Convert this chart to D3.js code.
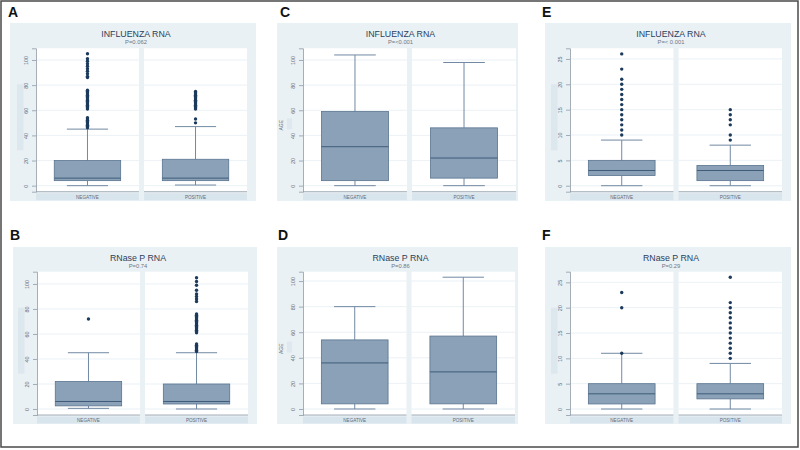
<!DOCTYPE html>
<html>
<head>
<meta charset="utf-8">
<script src="https://cdn.jsdelivr.net/npm/d3@7"></script>
<style>
  html, body { margin: 0; padding: 0; background: #ffffff; }
  svg { display: block; font-family: "Liberation Sans", Arial, sans-serif; }
</style>
</head>
<body>
<svg id="chart" width="800" height="450"></svg>
<script>
// ---------------- DATA ----------------
const categories = ["NEGATIVE", "POSITIVE"];
const panelLetters = ["A", "B", "C", "D", "E", "F"];
const panelTitles = ["INFLUENZA RNA", "RNase P RNA", "INFLUENZA RNA", "RNase P RNA", "INFLUENZA RNA", "RNase P RNA"];
const pValues = ["P=0.062", "P=0.74", "P=<0.001", "P=0.86", "P=< 0.001", "P=0.29"];
const yAxisTitles = ["", "", "AGE", "AGE", "", ""];
const ageTicks = [0, 20, 40, 60, 80, 100];
const smallTicks = [0, 5, 10, 15, 20, 25];

// box stats: [lower whisker, q1, median, q3, upper whisker]
const boxA_neg = [0, 4, 6, 20, 45];
const boxA_pos = [0.5, 4, 6, 21, 47];
const outA_neg = [46, 47, 48, 49, 50, 51, 52, 53, 54, 61, 62, 63, 64, 65, 66, 67, 68, 69, 70, 71, 72, 73, 74, 75, 76, 86, 87, 89, 91, 93, 95, 97, 99, 101, 105];
const outA_pos = [50, 53, 61, 62, 63, 64, 65, 66, 67, 68, 69, 70, 71, 72, 73, 74, 75];

const boxB_neg = [0.5, 2.5, 6, 22, 45];
const boxB_pos = [0, 4, 6, 20, 45];
const outB_neg = [72];
const outB_pos = [46, 47, 48, 49, 50, 51, 52, 61, 62, 63, 64, 65, 66, 67, 68, 69, 70, 71, 72, 73, 74, 75, 76, 86, 88, 90, 92, 95, 99, 102, 105];

const boxC_neg = [0, 4, 31, 59, 104];
const boxC_pos = [0, 6, 22, 46, 98];
const outC_neg = [];
const outC_pos = [];

const boxD_neg = [0, 4, 36, 54, 80];
const boxD_pos = [0, 4, 29, 57, 103];
const outD_neg = [];
const outD_pos = [];

const boxE_neg = [0, 2, 3, 5, 9];
const boxE_pos = [0, 1, 3, 4, 8];
const outE_neg = [10, 11, 12, 13, 14, 15, 16, 17, 18, 19, 20, 21, 23, 26];
const outE_pos = [9, 10, 12, 13, 14, 15];

const boxF_neg = [0, 1, 3, 5, 11];
const boxF_pos = [0, 2, 3, 5, 9];
const outF_neg = [11, 20, 23];
const outF_pos = [10, 11, 12, 13, 14, 15, 16, 17, 18, 19, 20, 21, 26];

const panelBoxes = [[boxA_neg, boxA_pos], [boxB_neg, boxB_pos], [boxC_neg, boxC_pos], [boxD_neg, boxD_pos], [boxE_neg, boxE_pos], [boxF_neg, boxF_pos]];
const panelOutliers = [[outA_neg, outA_pos], [outB_neg, outB_pos], [outC_neg, outC_pos], [outD_neg, outD_pos], [outE_neg, outE_pos], [outF_neg, outF_pos]];
const panelTicks = [ageTicks, ageTicks, ageTicks, ageTicks, smallTicks, smallTicks];
const panelDomains = [[-4.8, 109.3], [-4.8, 109.8], [-4.8, 109.3], [-4.7, 107.3], [-1.18, 27.1], [-1.18, 27.1]];

// ---------------- LAYOUT ----------------
const layout = [
  { lx: 8,   ly: 17,  bg: [10, 23, 246, 178],  plot: [36, 48.3, 211, 143.4] },
  { lx: 10,  ly: 240, bg: [13, 247, 244, 177], plot: [37, 271.7, 211, 143.3] },
  { lx: 280, ly: 17,  bg: [277, 23, 241, 178], plot: [303, 48.3, 213, 143.4] },
  { lx: 278, ly: 240, bg: [277, 247, 241, 177], plot: [303, 271.7, 212, 143.3] },
  { lx: 542, ly: 17,  bg: [545, 23, 246, 178], plot: [570, 48.3, 212, 143.4] },
  { lx: 542, ly: 240, bg: [545, 247, 246, 177], plot: [570, 271.7, 212, 143.3] }
];

const C = {
  bg: "#eaf1f5", strip: "#d9e5ed", grid: "#e6eef3", axis: "#8f9ba6",
  boxFill: "#8aa1b7", boxStroke: "#5a7490", median: "#3f5c7a", whisker: "#7189a3",
  dot: "#1b3a5c", title: "#2b3f5c", sub: "#6b7785", tick: "#5f6b78"
};

const svg = d3.select("#chart");

// outer frame
svg.append("rect").attr("x", 1).attr("y", 1).attr("width", 797).attr("height", 446)
  .attr("fill", "none").attr("stroke", "#4a4a4a").attr("stroke-width", 1.5);

layout.forEach((L, i) => {
  const g = svg.append("g");
  const [bx, by, bw, bh] = L.bg;
  const [px, py, pw, ph] = L.plot;

  g.append("text").attr("x", L.lx).attr("y", L.ly)
    .attr("font-size", 14).attr("font-weight", "bold").attr("fill", "#111")
    .text(panelLetters[i]);

  g.append("rect").attr("x", bx).attr("y", by).attr("width", bw).attr("height", bh).attr("fill", C.bg);

  const cx = bx + bw / 2 + 3;
  g.append("text").attr("x", cx).attr("y", by + 14).attr("text-anchor", "middle")
    .attr("font-size", 8.8).attr("fill", C.title).text(panelTitles[i]);
  g.append("text").attr("x", cx).attr("y", by + 21).attr("text-anchor", "middle")
    .attr("font-size", 5.8).attr("fill", C.sub).text(pValues[i]);

  const gap = 5;
  const sw = (pw - gap) / 2;
  const x = d3.scaleBand().domain(categories).range([px, px + pw]).paddingInner(gap / pw * 2).paddingOuter(0);
  const y = d3.scaleLinear().domain(panelDomains[i]).range([py + ph, py]);

  // subplot backgrounds, strips, grid, x-axis lines
  categories.forEach((cat) => {
    const sx = x(cat), bwid = x.bandwidth();
    g.append("rect").attr("x", sx).attr("y", py).attr("width", bwid).attr("height", ph).attr("fill", "#ffffff");
    g.selectAll(null).data(panelTicks[i]).enter().append("line")
      .attr("x1", sx).attr("x2", sx + bwid).attr("y1", d => y(d)).attr("y2", d => y(d))
      .attr("stroke", C.grid).attr("stroke-width", 0.8);
    g.append("line").attr("x1", sx).attr("x2", sx + bwid).attr("y1", py + ph).attr("y2", py + ph)
      .attr("stroke", C.axis).attr("stroke-width", 0.8);
    g.append("rect").attr("x", sx).attr("y", py + ph + 1.5).attr("width", bwid).attr("height", 7).attr("fill", C.strip);
    g.append("text").attr("x", sx + bwid / 2).attr("y", py + ph + 6.8).attr("text-anchor", "middle")
      .attr("font-size", 4.6).attr("fill", C.tick).text(cat);
  });

  // y axis
  const yAxis = d3.axisLeft(y).tickValues(panelTicks[i]).tickSize(4).tickPadding(2).tickFormat(d3.format("d"));
  const ag = g.append("g").attr("transform", `translate(${px},0)`).call(yAxis);
  ag.select(".domain").attr("stroke", C.axis).attr("stroke-width", 0.8);
  ag.selectAll(".tick line").attr("stroke", C.axis).attr("stroke-width", 0.8);
  ag.selectAll(".tick text").attr("font-size", 5.5).attr("fill", C.tick)
    .attr("font-family", "Liberation Sans, Arial, sans-serif")
    .attr("text-anchor", "middle").attr("dy", null)
    .attr("transform", "translate(-8,0) rotate(-90)").attr("x", 0).attr("y", 0);

  // y axis title area
  if (yAxisTitles[i]) {
    g.append("rect").attr("x", px - 16).attr("y", py + 70).attr("width", 5).attr("height", 11).attr("fill", "#dfe8ee");
    g.append("text").attr("transform", `translate(${px - 20.5},${py + 77}) rotate(-90)`)
      .attr("text-anchor", "middle").attr("font-size", 5).attr("fill", C.tick).text(yAxisTitles[i]);
  } else {
    g.append("rect").attr("x", px - 19).attr("y", py + 36).attr("width", 6.5).attr("height", 66).attr("fill", "#dde7ee");
  }

  // boxes
  categories.forEach((cat, k) => {
    const s = panelBoxes[i][k];
    const center = x(cat) + x.bandwidth() / 2;
    const boxW = x.bandwidth() * 0.645;
    const capW = boxW * 0.62;
    // whiskers
    g.append("line").attr("x1", center).attr("x2", center).attr("y1", y(s[0])).attr("y2", y(s[1]))
      .attr("stroke", C.whisker).attr("stroke-width", 1);
    g.append("line").attr("x1", center).attr("x2", center).attr("y1", y(s[3])).attr("y2", y(s[4]))
      .attr("stroke", C.whisker).attr("stroke-width", 1);
    [s[0], s[4]].forEach(v => {
      g.append("line").attr("x1", center - capW / 2).attr("x2", center + capW / 2).attr("y1", y(v)).attr("y2", y(v))
        .attr("stroke", C.whisker).attr("stroke-width", 1);
    });
    g.append("rect").attr("x", center - boxW / 2).attr("y", y(s[3])).attr("width", boxW)
      .attr("height", y(s[1]) - y(s[3])).attr("fill", C.boxFill).attr("stroke", C.boxStroke).attr("stroke-width", 0.8);
    g.append("line").attr("x1", center - boxW / 2).attr("x2", center + boxW / 2).attr("y1", y(s[2])).attr("y2", y(s[2]))
      .attr("stroke", C.median).attr("stroke-width", 1);
    g.selectAll(null).data(panelOutliers[i][k]).enter().append("circle")
      .attr("cx", center).attr("cy", d => y(d)).attr("r", 1.7).attr("fill", C.dot);
  });
});
</script>
</body>
</html>
